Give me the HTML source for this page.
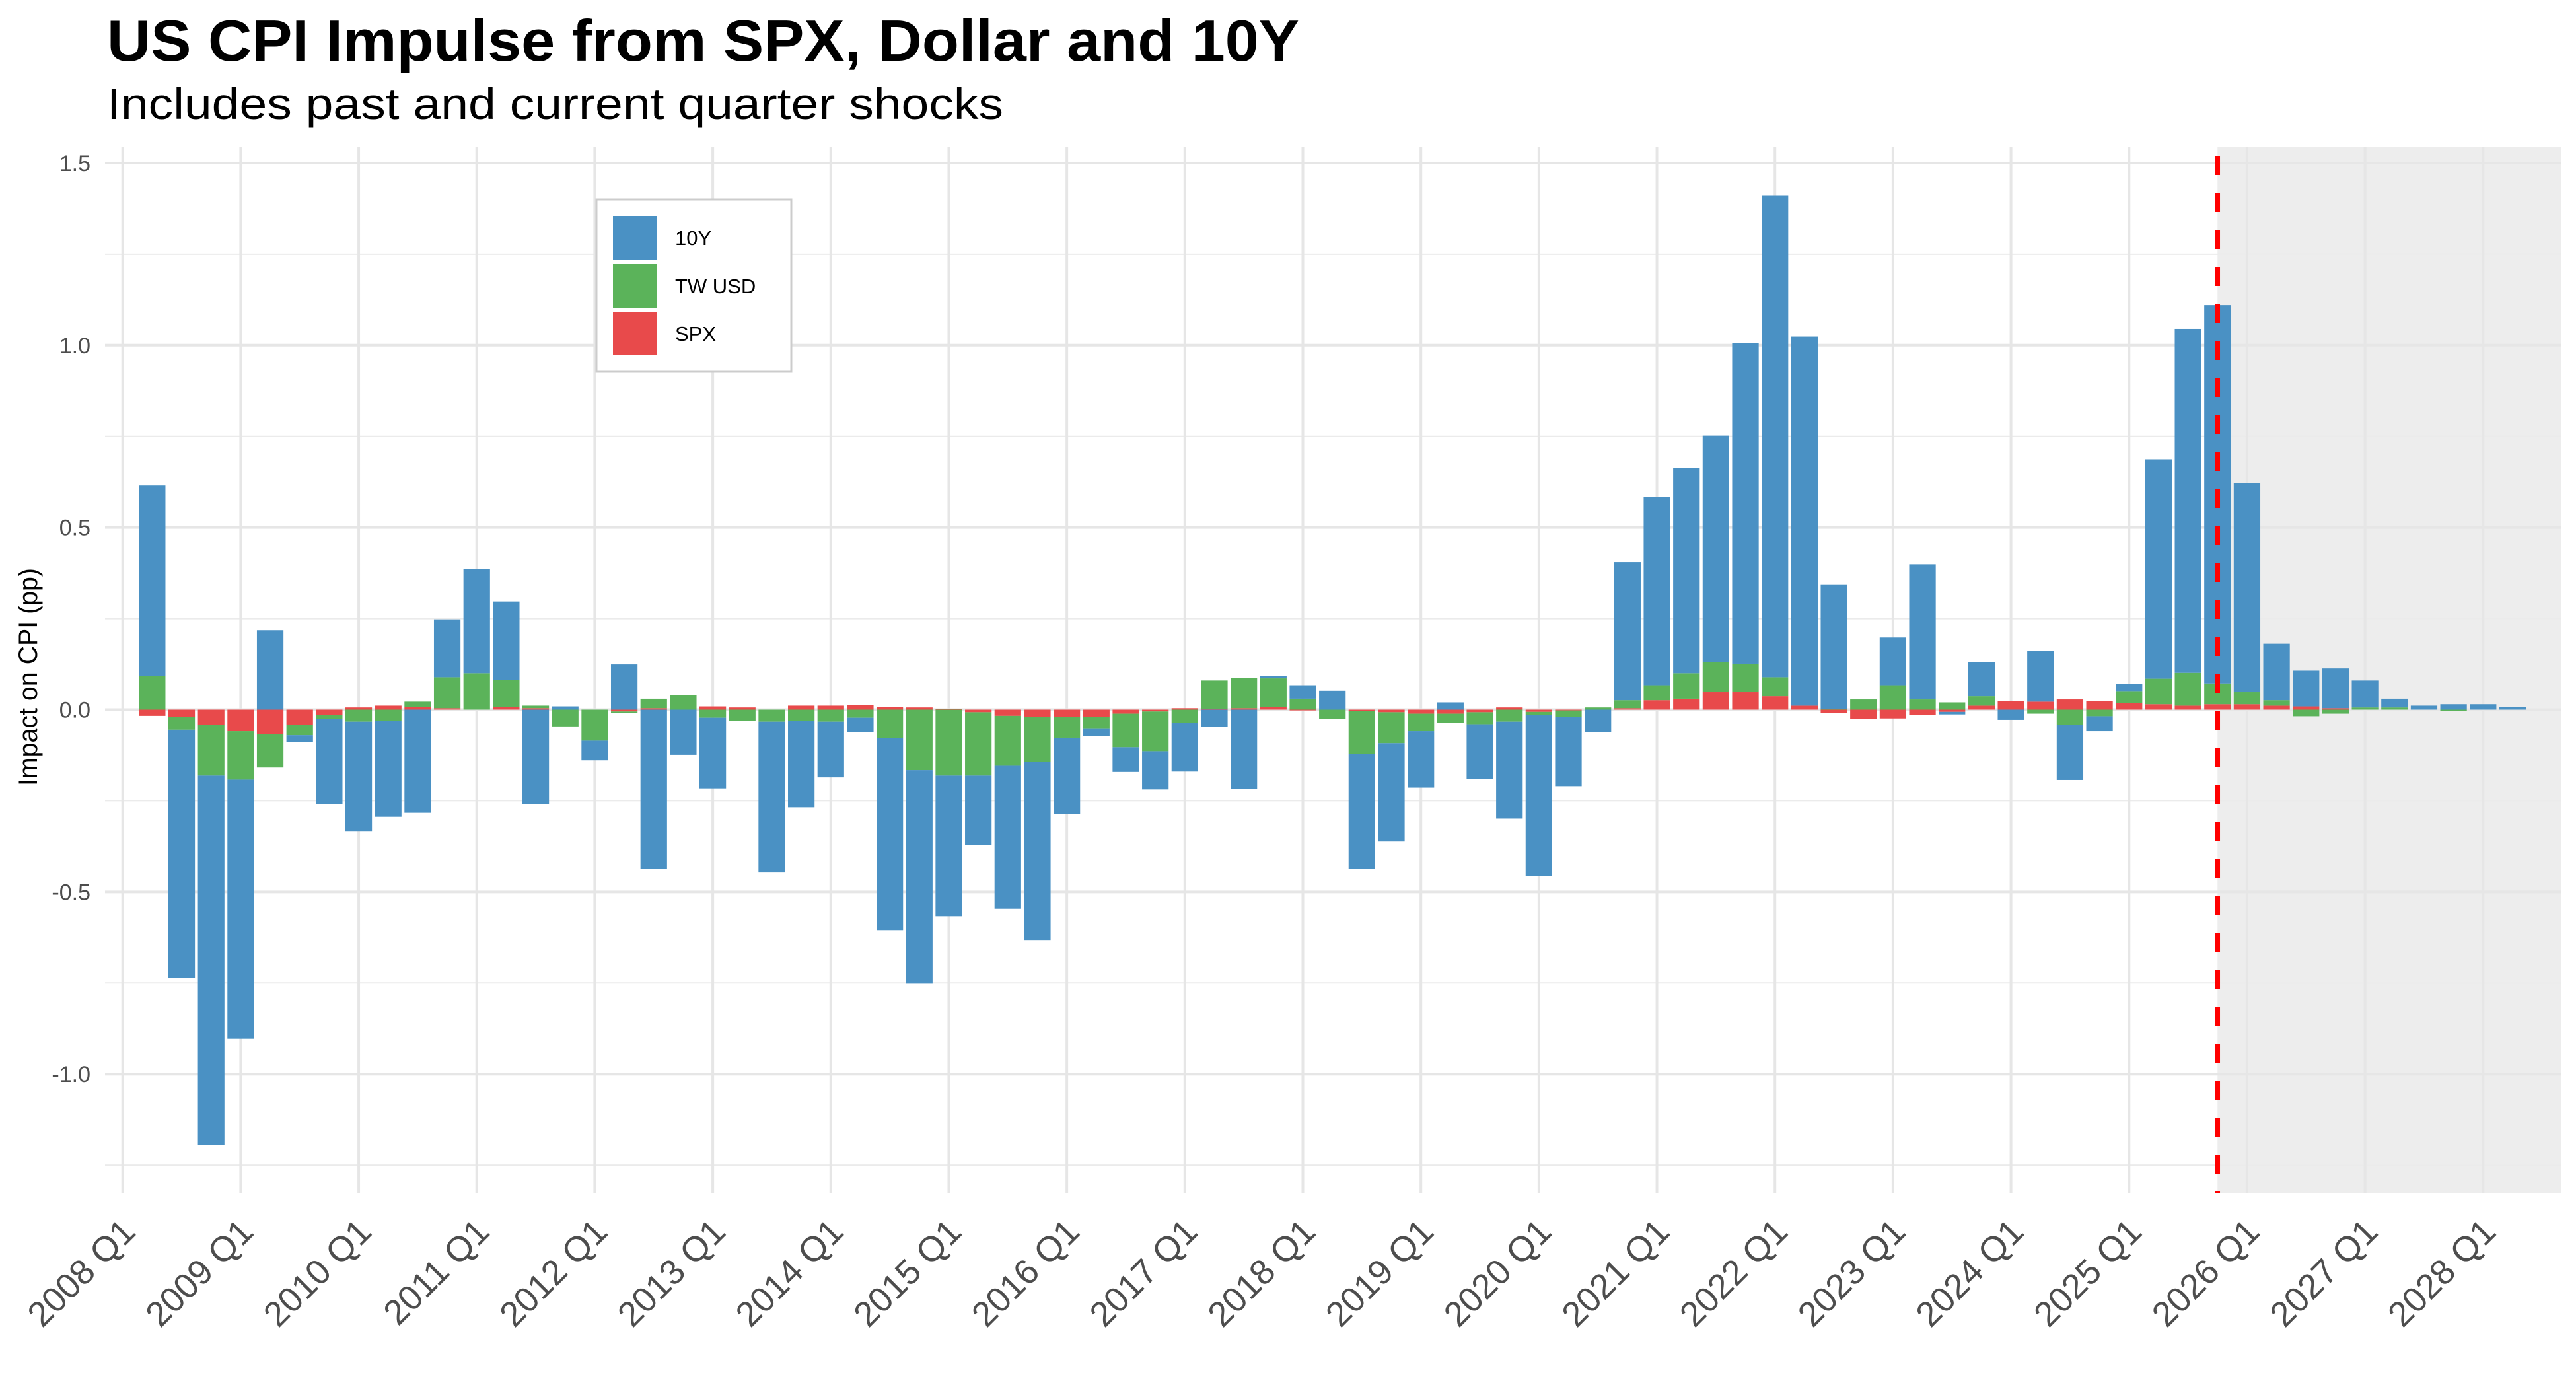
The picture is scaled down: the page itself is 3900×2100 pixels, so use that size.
<!DOCTYPE html>
<html>
<head>
<meta charset="utf-8">
<style>
  html, body { margin: 0; padding: 0; background: #ffffff; }
  svg { display: block; }
  text { font-family: "Liberation Sans", Arial, sans-serif; }
</style>
</head>
<body>
<svg id="chart" width="3900" height="2100" viewBox="0 0 3900 2100" xmlns="http://www.w3.org/2000/svg">
  <rect x="0" y="0" width="3900" height="2100" fill="#ffffff"/>
  <text x="162" y="92" font-size="88" font-weight="bold" fill="#000" textLength="1805" lengthAdjust="spacingAndGlyphs">US CPI Impulse from SPX, Dollar and 10Y</text>
  <text x="162" y="180" font-size="66" fill="#000" textLength="1357" lengthAdjust="spacingAndGlyphs">Includes past and current quarter shocks</text>
  <text x="0" y="0" font-size="40" fill="#000" text-anchor="middle" textLength="330" lengthAdjust="spacingAndGlyphs" transform="translate(56,1025) rotate(-90)">Impact on CPI (pp)</text>
  <g id="shade"></g>
  <g id="grid"></g>
  <g id="bars"></g>
  <g id="vline"></g>
  <g id="yticks"></g>
  <g id="xticks"></g>
  <g id="legend">
    <rect x="903" y="302" width="295" height="260" fill="#ffffff" stroke="#cccccc" stroke-width="3"/>
    <rect x="928" y="327" width="66" height="66" fill="#4A91C4"/>
    <text x="1022" y="371" font-size="31" fill="#000">10Y</text>
    <rect x="928" y="400" width="66" height="66" fill="#5BB35A"/>
    <text x="1022" y="444" font-size="31" fill="#000">TW USD</text>
    <rect x="928" y="472" width="66" height="66" fill="#E84A4B"/>
    <text x="1022" y="516" font-size="31" fill="#000">SPX</text>
  </g>
</svg>
<script>
// ---- data (quarters 2008 Q2 .. 2028 Q2) ----
var quarters = [];
for (var yy = 2008; yy <= 2028; yy++) { for (var qq = 1; qq <= 4; qq++) { quarters.push(yy + " Q" + qq); } }
quarters = quarters.slice(1, 82);

var spx = [-0.017,-0.02,-0.041,-0.059,-0.067,-0.042,-0.015,0.006,0.011,0.007,
0.004,0.0,0.007,0.004,0.0,0.0,-0.005,0.004,0.0,0.009,
0.006,0.0,0.011,0.011,0.013,0.007,0.006,0.002,-0.007,-0.017,
-0.02,-0.02,-0.02,-0.011,-0.005,0.004,0.002,0.004,0.007,-0.002,
0.0,-0.004,-0.007,-0.011,-0.011,-0.007,0.006,-0.006,-0.002,0.0,
0.004,0.026,0.030,0.048,0.048,0.037,0.011,-0.009,-0.026,-0.024,
-0.015,-0.006,0.011,0.024,0.022,0.028,0.024,0.018,0.015,0.011,
0.015,0.015,0.011,0.009,0.004,0.0,0.0,0.0,0.0,0.0,0.0];

var twUsd = [0.092,-0.035,-0.14,-0.133,-0.092,-0.028,-0.011,-0.033,-0.03,0.015,
0.085,0.10,0.074,0.007,-0.046,-0.085,-0.004,0.026,0.039,-0.022,
-0.031,-0.033,-0.031,-0.033,-0.022,-0.078,-0.166,-0.181,-0.174,-0.137,
-0.124,-0.057,-0.031,-0.092,-0.109,-0.037,0.078,0.083,0.079,0.030,
-0.026,-0.118,-0.085,-0.048,-0.026,-0.033,-0.033,-0.009,-0.018,0.006,
0.022,0.041,0.07,0.083,0.078,0.052,0.0,0.002,0.028,0.067,
0.028,0.02,0.026,0.0,-0.011,-0.041,-0.018,0.033,0.07,0.09,
0.057,0.033,0.015,-0.018,-0.011,0.006,0.006,0.0,-0.003,0.0,0.0];

var tenY = [0.523,-0.68,-1.014,-0.711,0.218,-0.018,-0.233,-0.30,-0.264,-0.283,
0.159,0.286,0.216,-0.259,0.009,-0.054,0.124,-0.436,-0.124,-0.194,
0.0,-0.414,-0.237,-0.153,-0.039,-0.527,-0.586,-0.386,-0.19,-0.392,
-0.488,-0.21,-0.022,-0.068,-0.105,-0.133,-0.048,-0.218,0.006,0.037,
0.052,-0.314,-0.27,-0.155,0.02,-0.15,-0.266,-0.442,-0.19,-0.061,
0.379,0.516,0.564,0.621,0.88,1.323,1.013,0.342,0.0,0.131,
0.371,-0.007,0.094,-0.028,0.139,-0.152,-0.041,0.02,0.602,0.944,
1.038,0.573,0.155,0.098,0.109,0.074,0.024,0.011,0.015,0.015,0.007];

var yTickValues = [1.5, 1.0, 0.5, 0.0, -0.5, -1.0];
var yTickLabels = ["1.5", "1.0", "0.5", "0.0", "-0.5", "-1.0"];
var yMinorValues = [1.25, 0.75, 0.25, -0.25, -0.75, -1.25];
var xTickLabels = [];
for (var yr = 2008; yr <= 2028; yr++) xTickLabels.push(yr + " Q1");
var forecastStart = "2025 Q4";

// ---- layout & scales ----
var NS = "http://www.w3.org/2000/svg";
var panel = { left: 159, right: 3877, top: 222, bottom: 1806 };
var zeroY = 1074.5, unitPx = 551.7;
var x0 = 185.7, qPx = 44.67;
function yScale(v) { return zeroY - v * unitPx; }
function xIndex(label) { var p = label.split(" Q"); return (parseInt(p[0]) - 2008) * 4 + (parseInt(p[1]) - 1); }
function xScale(label) { return x0 + xIndex(label) * qPx; }
function mk(tag, attrs, parent) {
  var el = document.createElementNS(NS, tag);
  for (var k in attrs) el.setAttribute(k, attrs[k]);
  parent.appendChild(el);
  return el;
}

// shaded forecast region
var shadeG = document.getElementById("shade");
var sx = xScale(forecastStart);
var shade = mk("rect", { x: sx, y: panel.top, width: panel.right - sx, height: panel.bottom - panel.top, fill: "#ededed" }, shadeG);



// gridlines
var gridG = document.getElementById("grid");
yMinorValues.forEach(function (v) {
  var l = mk("line", { x1: panel.left, x2: panel.right, y1: yScale(v), y2: yScale(v), stroke: "#ebebeb", "stroke-width": 2 }, gridG);
  
  
});
yTickValues.forEach(function (v) {
  var l = mk("line", { x1: panel.left, x2: panel.right, y1: yScale(v), y2: yScale(v), stroke: "#e6e6e6", "stroke-width": 4 }, gridG);
  
  
});
xTickLabels.forEach(function (lab) {
  var x = xScale(lab);
  var l = mk("line", { x1: x, x2: x, y1: panel.top, y2: panel.bottom, stroke: "#e6e6e6", "stroke-width": 4 }, gridG);
  
  
});

// bars
var barsG = document.getElementById("bars");
var barW = qPx * 0.9;
var colors = { spx: "#E84A4B", usd: "#5BB35A", y10: "#4A91C4" };
quarters.forEach(function (q, i) {
  var cx = xScale(q);
  var pos = 0, neg = 0;
  var parts = [["spx", spx[i]], ["usd", twUsd[i]], ["y10", tenY[i]]];
  parts.forEach(function (p) {
    var v = p[1];
    if (v === 0) return;
    var a, b;
    if (v > 0) { a = pos; b = pos + v; pos = b; } else { a = neg; b = neg + v; neg = b; }
    var y1 = yScale(Math.max(a, b)), y2 = yScale(Math.min(a, b));
    var r = mk("rect", { x: cx - barW / 2, y: y1, width: barW, height: Math.max(y2 - y1, 0.5), fill: colors[p[0]] }, barsG);
    
    
  });
});

// forecast dashed line
var vG = document.getElementById("vline");
var vl = mk("line", { x1: sx, x2: sx, y1: 236, y2: panel.bottom, stroke: "#ff0000", "stroke-width": 7.5, "stroke-dasharray": "29 27" }, vG);



// y tick labels
var ytG = document.getElementById("yticks");
yTickValues.forEach(function (v, i) {
  var t = mk("text", { x: 137, y: yScale(v) + 12, "font-size": 34, fill: "#4d4d4d", "text-anchor": "end" }, ytG);
  t.textContent = yTickLabels[i];
  
  
});

// x tick labels
var xtG = document.getElementById("xticks");
xTickLabels.forEach(function (lab) {
  var x = xScale(lab);
  var t = mk("text", { x: 0, y: 0, "font-size": 53, fill: "#4d4d4d", "text-anchor": "end", transform: "translate(" + (x + 22) + "," + 1868 + ") rotate(-45)" }, xtG);
  t.textContent = lab;
  
  
});
</script>
</body>
</html>
